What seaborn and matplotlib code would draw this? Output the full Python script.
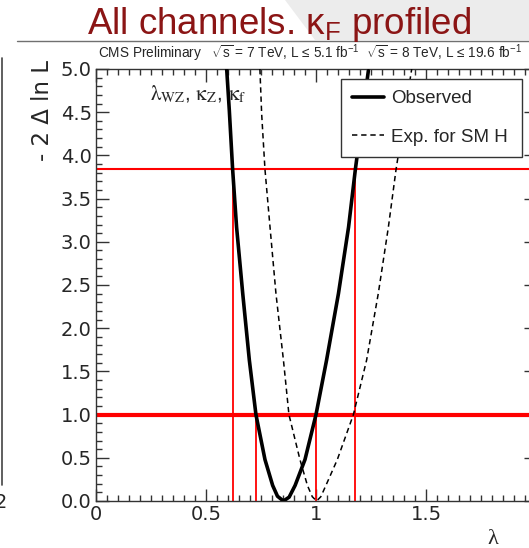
import numpy as np
import pandas as pd
import matplotlib
matplotlib.use('Agg')
import matplotlib.pyplot as plt
import seaborn as sns
from matplotlib.lines import Line2D
from matplotlib.patches import Polygon
from matplotlib.ticker import MultipleLocator

# ---- data ----
obs_x = [0.594, 0.606, 0.621, 0.639, 0.667, 0.697, 0.727, 0.768, 0.803, 0.825, 0.852,
         0.878, 0.905, 0.950, 1.000, 1.048, 1.102, 1.148, 1.179, 1.238]
obs_y = [5.00, 4.52, 3.84, 3.17, 2.40, 1.63, 1.00, 0.48, 0.18, 0.055, 0.00,
         0.045, 0.18, 0.48, 1.00, 1.63, 2.40, 3.17, 3.84, 4.98]

exp_x = [0.745, 0.753, 0.768, 0.791, 0.818, 0.852, 0.877, 0.927, 0.961, 0.983, 1.003,
         1.022, 1.045, 1.097, 1.170, 1.230, 1.283, 1.329, 1.364, 1.435]
exp_y = [5.00, 4.48, 3.84, 3.17, 2.40, 1.63, 1.00, 0.48, 0.18, 0.05, 0.00,
         0.05, 0.18, 0.48, 1.00, 1.63, 2.40, 3.17, 3.84, 5.00]

h_levels = [1.0, 3.84]
v_pos = [0.621, 0.727, 1.000, 1.179]
v_top = [3.84, 1.00, 1.00, 3.84]

x_ticks = [0, 0.5, 1, 1.5, 2]
x_ticklabels = ['0', '0.5', '1', '1.5', '2']
y_ticks = [0.0, 0.5, 1.0, 1.5, 2.0, 2.5, 3.0, 3.5, 4.0, 4.5, 5.0]
y_ticklabels = ['0.0', '0.5', '1.0', '1.5', '2.0', '2.5', '3.0', '3.5', '4.0', '4.5', '5.0']

# ---- style ----
sns.set_style('ticks')
plt.rcParams['font.family'] = ['Liberation Sans', 'DejaVu Sans']
plt.rcParams['mathtext.fontset'] = 'custom'
plt.rcParams['mathtext.rm'] = 'Liberation Sans'
plt.rcParams['mathtext.it'] = 'Liberation Sans:italic'
plt.rcParams['mathtext.bf'] = 'Liberation Sans:bold'

W, H = 529, 548
fig = plt.figure(figsize=(W / 100, H / 100), dpi=100)

# slide decoration
fig.patches.append(Polygon([(285 / W, 1), (315 / W, 1 - 40 / H), (1, 1 - 40 / H), (1, 1)],
                           closed=True, transform=fig.transFigure, facecolor='#ececec',
                           edgecolor='none', zorder=0))
fig.lines.append(Line2D([17 / W, 1], [1 - 41 / H, 1 - 41 / H], transform=fig.transFigure,
                        color='#707070', lw=1.0))
fig.lines.append(Line2D([2 / W, 2 / W], [1 - 58 / H, 1 - 485 / H], transform=fig.transFigure,
                        color='#444444', lw=1.2))
fig.text(1 / W, 1 - 503 / H, '2', fontsize=14, ha='center', va='center',
         family=['DejaVu Sans'])

fig.text(279 / W, 1 - 34 / H, r'All channels. κ${}_{\mathrm{F}}$ profiled', color='#8b1515',
         fontsize=26.5, ha='center', va='baseline')

ax = fig.add_axes([96 / W, (H - 501) / H, 440 / W, 432 / H])

df_obs = pd.DataFrame({'lam': obs_x, 'nll': obs_y})
df_exp = pd.DataFrame({'lam': exp_x, 'nll': exp_y})

for lvl, lw in zip(h_levels, [3.0, 1.5]):
    ax.axhline(lvl, color='#ff0000', lw=lw, zorder=1)
ax.vlines(v_pos, 0, v_top, colors='#ff0000', lw=1.3, zorder=1)

sns.lineplot(data=df_obs, x='lam', y='nll', ax=ax, color='black', lw=2.6,
             estimator=None, sort=False, label='Observed', zorder=3)
sns.lineplot(data=df_exp, x='lam', y='nll', ax=ax, color='black', lw=1.1,
             linestyle=(0, (3.5, 2.5)), estimator=None, sort=False,
             label='Exp. for SM H', zorder=3)

ax.set_xlim(0, 2)
ax.set_ylim(0, 5)
ax.set_xticks(x_ticks)
ax.set_xticklabels(x_ticklabels)
ax.set_yticks(y_ticks)
ax.set_yticklabels(y_ticklabels)
ax.xaxis.set_minor_locator(MultipleLocator(0.05))
ax.yaxis.set_minor_locator(MultipleLocator(0.1))
ax.tick_params(which='both', direction='in', top=True, right=True, color='#333333')
ax.tick_params(which='major', length=9, width=1, labelsize=14, pad=3)
ax.tick_params(which='minor', length=4.5, width=1)
for lab in ax.get_xticklabels() + ax.get_yticklabels():
    lab.set_family(['DejaVu Sans'])
for s in ax.spines.values():
    s.set_linewidth(1.0)
    s.set_color('#333333')

ax.set_xlabel('')
ax.set_ylabel('- 2 Δ ln L', fontsize=16.5, loc='top', labelpad=5,
              family=['DejaVu Sans'])
ax.yaxis.label.set_y(1.02)

leg = ax.legend(loc='upper left', bbox_to_anchor=(0.557, 0.977, 0.411, 0.0), mode='expand',
                borderaxespad=0, fontsize=13.5, frameon=True, fancybox=False,
                edgecolor='#333333', framealpha=1, borderpad=0.6, labelspacing=1.15,
                handlelength=1.7, handletextpad=0.35)
leg.get_frame().set_linewidth(1.0)

ax.text(0.245, 4.64,
        r'$\mathrm{\lambda}_{\mathrm{WZ}}$, $\mathrm{\kappa}_{\mathrm{Z}}$, $\mathrm{\kappa}_{\mathrm{f}}$',
        fontsize=15, math_fontfamily='stix', ha='left', va='baseline')

fig.text(98 / W, 1 - 58 / H,
         r'CMS Preliminary   $\sqrt{\mathrm{s}}$ = 7 TeV, L ≤ 5.1 fb$^{-1}$  $\sqrt{\mathrm{s}}$ = 8 TeV, L ≤ 19.6 fb$^{-1}$',
         fontsize=9.8, ha='left', va='baseline')

fig.text(487 / W, 1 - 530 / H, 'λ', fontsize=16, ha='left', va='top',
         family=['Liberation Serif', 'DejaVu Serif'])

fig.savefig('out.png', dpi=100)
